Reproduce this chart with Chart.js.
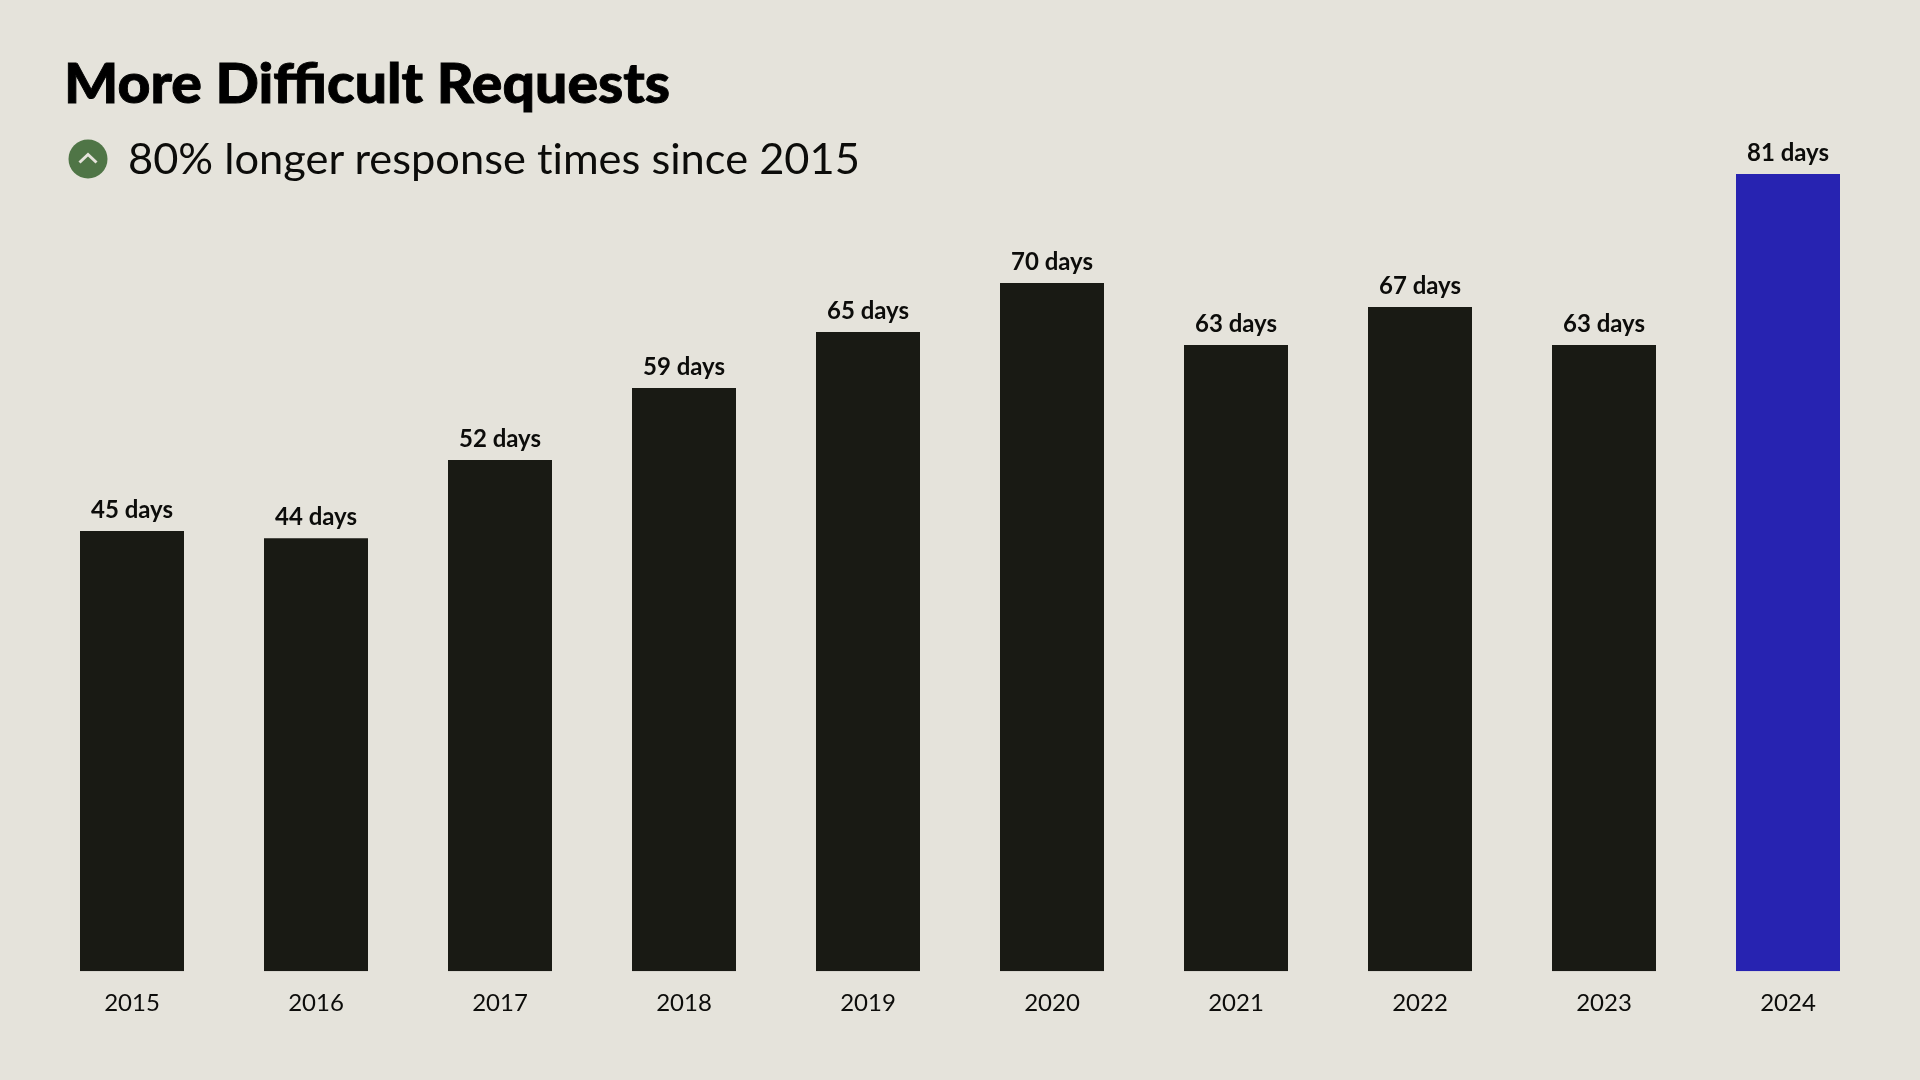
<!DOCTYPE html>
<html><head><meta charset="utf-8">
<script src="https://cdn.jsdelivr.net/npm/chart.js@4"></script>
<style>
html,body{margin:0;padding:0;width:1920px;height:1080px;background:#e5e3db;overflow:hidden;font-family:Lato,sans-serif;color:#000}
#wrap{position:absolute;left:0;top:0;width:1920px;height:1080px}
#title{position:absolute;left:64px;top:48px;font-size:56px;font-weight:900;line-height:68px;white-space:nowrap;transform:scaleX(1.02);transform-origin:left center;-webkit-text-stroke:0.9px #000}
#sub{position:absolute;left:128px;top:130px;font-size:43.4px;font-weight:400;line-height:54px;white-space:nowrap;color:#0c0c0a;font-variant-ligatures:none}
#icon{position:absolute;left:68px;top:139px;width:40px;height:40px}
</style></head><body>
<div id="wrap"><canvas id="c" width="1920" height="1080"></canvas></div>
<div id="title">More Difficult Requests</div>
<svg id="icon" viewBox="0 0 40 40"><circle cx="20" cy="20" r="19.5" fill="#4f7546"/><path d="M11.5 23.5 L20 15.5 L28.5 23.5" fill="none" stroke="#e5e3db" stroke-width="3"/></svg>
<div id="sub">80% longer response times since 2015</div>
<script>
const years = ['2015','2016','2017','2018','2019','2020','2021','2022','2023','2024'];
const days = [44.72,44,51.93,59.25,64.94,69.92,63.62,67.48,63.62,81];
const dayLabels = ['45 days','44 days','52 days','59 days','65 days','70 days','63 days','67 days','63 days','81 days'];
const barColors = ['#191a14','#191a14','#191a14','#191a14','#191a14','#191a14','#191a14','#191a14','#191a14','#2723b1'];
const valueLabels = {
  id:'valueLabels',
  afterDatasetsDraw(chart){
    const {ctx} = chart;
    const bars = chart.getDatasetMeta(0).data;
    ctx.save();
    ctx.font = '700 24px Lato';
    ctx.fillStyle = '#0c0c0a';
    ctx.textAlign = 'center';
    ctx.textBaseline = 'alphabetic';
    bars.forEach((b,i)=>ctx.fillText(dayLabels[i], b.x, b.y-13));
    ctx.restore();
  }
};
new Chart(document.getElementById('c'),{
  type:'bar',
  data:{labels:years,datasets:[{data:days,backgroundColor:barColors,barPercentage:104/184,categoryPercentage:1,borderWidth:0}]},
  options:{
    responsive:false,animation:false,
    layout:{padding:{left:40,right:40,top:174,bottom:45}},
    plugins:{legend:{display:false},tooltip:{enabled:false}},
    scales:{
      x:{grid:{display:false,drawTicks:false},border:{display:false},
         ticks:{color:'#0c0c0a',font:{family:'Lato',size:24,weight:'400'},padding:17.5,maxRotation:0}},
      y:{display:false,min:0,max:81}
    }
  },
  plugins:[valueLabels]
});
</script>
</body></html>
